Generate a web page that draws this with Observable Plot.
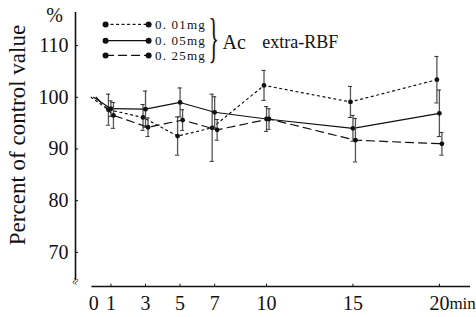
<!DOCTYPE html>
<html><head><meta charset="utf-8">
<script src="https://cdn.jsdelivr.net/npm/d3@7"></script>
<script src="https://cdn.jsdelivr.net/npm/@observablehq/plot@0.6"></script>
<style>html,body{margin:0;padding:0;background:#fff} svg text{font-family:'Liberation Serif',serif !important} .legtext text{letter-spacing:1.2px}</style>
</head><body><div id="chart"></div>
<script>
const times = [0, 1, 3, 5, 7, 10, 15, 20];
const dose001 = [100, 97.6, 96.1, 92.5, 94.1, 102.3, 99.1, 103.4];
const err001  = [0, 3.0, 2.5, 3.7, 6.5, 2.9, 3.0, 4.5];
const dose005 = [100, 97.8, 97.7, 99.0, 97.1, 95.8, 94.0, 96.9];
const err005  = [0, 1.5, 3.5, 2.8, 3.0, 2.4, 2.5, 4.5];
const dose025 = [100, 96.5, 94.2, 95.6, 93.7, 95.8, 91.7, 91.0];
const err025  = [0, 2.5, 1.8, 2.0, 2.0, 2.0, 4.2, 2.2];
const seriesNames = ["0. 01mg", "0. 05mg", "0. 25mg"];
const yTicks = [70, 80, 90, 100, 110];
const xTicks = [0, 1, 3, 5, 7, 10, 15, 20];
const yLabel = "Percent of control value";
const titleA = "Ac";
const titleB = "extra-RBF";

const FF = "'Liberation Serif', serif";
const dashes = ["2,3.5", null, "8,5"];
const offs = [-2.5, 0, 2.5];
const vals = [dose001, dose005, dose025];
const errs = [err001, err005, err025];
const legendY = [114.1, 110.95, 108.1];

const marks = [];
const X0 = -1.05, XMAX = 21.8, YMIN = 63.4, YAXB = 64.6, YTOP = 116.4;

// axes
marks.push(Plot.ruleX([X0], {y1: YAXB, y2: YTOP, stroke: "#111", strokeWidth: 1.6}));
marks.push(Plot.ruleY([YMIN], {x1: -0.1, x2: XMAX, stroke: "#111", strokeWidth: 1.6}));
marks.push(Plot.ruleY(yTicks, {x1: X0, x2: X0 + 0.18, stroke: "#111"}));
marks.push(Plot.ruleX(xTicks.slice(1), {y1: YMIN, y2: YMIN + 0.45, stroke: "#111"}));
marks.push(Plot.axisY(yTicks, {tickSize: 0, tickPadding: 7, fontSize: 20, fontFamily: FF, label: null, anchor: "left"}));
marks.push(Plot.axisX(xTicks, {tickSize: 0, tickPadding: 9, fontSize: 20, fontFamily: FF, label: null, anchor: "bottom"}));
marks.push(Plot.text(["min"], {x: 20, y: YMIN, dx: 10, dy: 17, textAnchor: "start", fontSize: 17, fontFamily: FF}));
marks.push(Plot.text(["≈"], {x: X0, y: YAXB, dy: 1, fontSize: 12, rotate: -70, fontFamily: FF}));
marks.push(Plot.text(["%"], {x: X0, y: YTOP, dx: -21, dy: 3, fontSize: 20, fontFamily: FF}));
marks.push(Plot.text([yLabel], {x: X0, y: 92.7, dx: -51, rotate: -90, lineAnchor: "bottom", fontSize: 23, fontFamily: FF}));

// series
vals.forEach((v, s) => {
  const rows = times.map((t, i) => ({t, v: v[i], e: errs[s][i]}));
  const pts = rows.slice(1);
  marks.push(Plot.ruleX(pts, {x: "t", y1: d => d.v - d.e, y2: d => d.v + d.e, dx: offs[s], stroke: "#555", strokeWidth: 1.3}));
  marks.push(Plot.ruleY(pts, {y: d => d.v + d.e, x1: d => d.t - 0.12, x2: d => d.t + 0.12, dx: offs[s], stroke: "#333"}));
  marks.push(Plot.ruleY(pts, {y: d => d.v - d.e, x1: d => d.t - 0.12, x2: d => d.t + 0.12, dx: offs[s], stroke: "#333"}));
  marks.push(Plot.line(rows, {x: "t", y: "v", dx: offs[s], stroke: "#111", strokeWidth: 1.2, strokeDasharray: dashes[s]}));
  marks.push(Plot.dot(pts, {x: "t", y: "v", dx: offs[s], r: 2.4, fill: "#111"}));
  // legend
  const leg = [{t: 0.69, v: legendY[s]}, {t: 3.18, v: legendY[s]}];
  marks.push(Plot.line(leg, {x: "t", y: "v", stroke: "#111", strokeWidth: 1.2, strokeDasharray: dashes[s]}));
  marks.push(Plot.dot(leg, {x: "t", y: "v", r: 3, fill: "#111"}));
  marks.push(Plot.text([seriesNames[s]], {x: 3.55, y: legendY[s], textAnchor: "start", fontSize: 13, fontFamily: FF, className: "legtext"}));
});
marks.push(Plot.text(["}"], {x: 6.95, y: 111.3, fontSize: 54, fontWeight: 100, fontFamily: FF, className: "brace"}));
marks.push(Plot.text([titleA], {x: 7.45, y: 110.6, textAnchor: "start", fontSize: 20, fontFamily: FF}));
marks.push(Plot.text([titleB], {x: 9.75, y: 110.6, textAnchor: "start", fontSize: 18, fontFamily: FF}));

const chart = Plot.plot({
  width: 476, height: 317,
  marginTop: 12, marginBottom: 31, marginLeft: 75, marginRight: 6,
  x: {domain: [X0, XMAX]},
  y: {domain: [YMIN, YTOP]},
  style: "font-family:'Liberation Serif',serif;color:#111;background:#fff",
  marks
});
document.getElementById("chart").appendChild(chart);
d3.select(chart).selectAll(".brace text").each(function() {
  const t = d3.select(this).attr("transform") || "";
  d3.select(this).attr("transform", t + " scale(0.4,1)");
});
</script></body></html>
